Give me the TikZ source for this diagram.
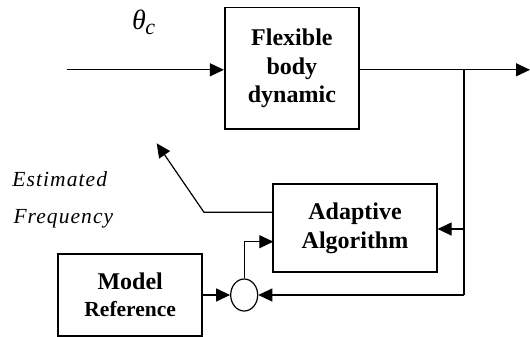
\documentclass[tikz,border=0pt]{standalone}
\usepackage{fontspec}
\setmainfont{Liberation Serif}
\newfontfamily\spacedit[LetterSpace=5]{Liberation Serif}
\usetikzlibrary{arrows.meta,shapes.geometric}
\tikzset{
  blk/.style={draw,line width=1.8pt,inner sep=0pt,align=center,font=\fontsize{24}{28.7}\selectfont\bfseries},
  wire/.style={line width=1.2pt},
  arr/.style={wire,-{Triangle[length=14pt,width=13pt]}},
  lbl/.style={inner sep=0pt,anchor=base west,font=\spacedit\fontsize{21.5}{24}\selectfont\itshape}
}
\begin{document}
\begin{tikzpicture}[x=1pt,y=-1pt]
\useasboundingbox (0,0) rectangle (530,337);
% blocks
\node[blk,minimum width=134.2pt,minimum height=121.7pt] (flex) at (291.9,68.3) {Flexible\\body\\dynamic};
\node[blk,minimum width=163.4pt,minimum height=87.7pt] (ada) at (355,228.2) {Adaptive\\Algorithm};
\node[blk,minimum width=144.2pt,minimum height=81.4pt] (model) at (130.2,295) {Model\\[-1.5pt]{\fontsize{21.5}{24}\selectfont Reference}};
\node[draw,ellipse,line width=1.2pt,minimum width=27pt,minimum height=32pt,inner sep=0pt] (ell) at (244.2,295) {};
% coordinates
\coordinate (in) at (66.9,69.8);
\coordinate (br) at (464,69.8);
\coordinate (out) at (530,69.8);
\coordinate (bA) at (464,229);
\coordinate (bE) at (464,295);
\coordinate (eS) at (273.3,212.3);
\coordinate (eB) at (204,212.3);
\coordinate (eT) at (156.7,143.3);
\coordinate (aU) at (244.2,241.7);
\coordinate (aIn) at (273.3,241.7);
% connectors
\draw[arr] (in) -- (in -| flex.west);
\draw[arr] (in -| flex.east) -- (out);
\draw[wire] (br) -- (bE);
\draw[arr] (bA) -- (bA -| ada.east);
\draw[arr] (bE) -- (ell.east);
\draw[arr] (model.east) -- (ell.west);
\draw[arr] (ell.north) -- (aU) -- (aIn);
\draw[arr] (eS) -- (eB) -- (eT);
% labels
\node[lbl] (est) at (12.3,186.7) {Estimated};
\node[lbl] (freq) at (13.3,223.3) {Frequency};
\node[inner sep=0pt,anchor=base west] (theta) at (132,29.5) {\fontsize{28}{28}\selectfont\itshape θ\kern-0.5pt\raisebox{-5.5pt}{\fontsize{22}{22}\selectfont c}};
\end{tikzpicture}
\end{document}
